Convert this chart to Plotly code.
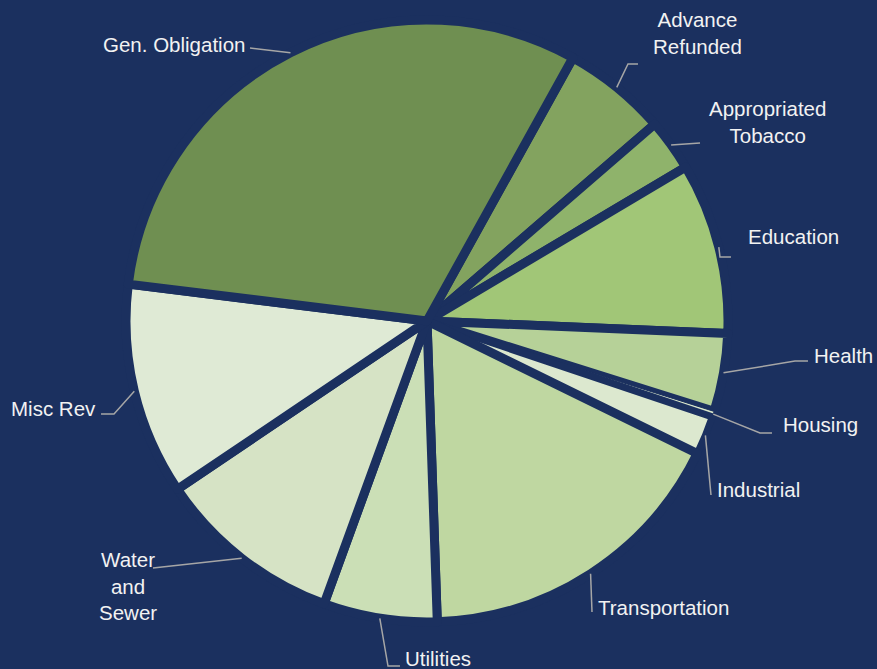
import math
import plotly.graph_objects as go

# ---- data ----
categories = ["Advance Refunded", "Appropriated Tobacco", "Education", "Health", "Housing",
              "Industrial", "Transportation", "Utilities", "Water and Sewer", "Misc Rev",
              "Gen. Obligation"]
values = [5.6, 2.8, 9.2, 4.2, 0.3, 2.1, 17.2, 6.1, 10.0, 11.4, 31.1]
label_texts = ["Advance<br>Refunded", "Appropriated<br>Tobacco", "Education", "Health", "Housing",
               "Industrial", "Transportation", "Utilities", "Water<br>and<br>Sewer", "Misc Rev",
               "Gen. Obligation"]

# ---- style / layout ----
W, H = 877, 669
CX, CY, R = 427, 321, 301
ROT = 29
BG = "#1B305F"
colors = ["#83A35F", "#8FB36B", "#A1C677", "#B6D198", "#D9E6CB", "#DCE8CF",
          "#BFD7A1", "#CBDFB6", "#D6E3C5", "#DFEAD5", "#6F8F51"]
line_widths = [9, 9, 9, 9, 1, 7, 9, 9, 9, 9, 9]

# label text position (px), anchor, leader path points after the rim point (px)
label_layout = {
    "Advance Refunded": ((697, 33), "center", [(628, 64), (638, 64)]),
    "Appropriated Tobacco": ((767, 122), "center", [(700, 143)]),
    "Education": ((746, 236), "left", [(720, 257), (731, 257)]),
    "Health": ((812, 355), "left", [(795, 361), (808, 361)]),
    "Housing": ((781, 424), "left", [(760, 433), (772, 433)]),
    "Industrial": ((715, 489), "left", [(711, 495)]),
    "Transportation": ((596, 607), "left", [(592, 612)]),
    "Utilities": ((403, 658), "left", [(388, 666), (400, 666)]),
    "Water and Sewer": ((128, 586), "center", [(153, 568)]),
    "Misc Rev": ((98, 408), "right", [(114, 414), (101, 414)]),
    "Gen. Obligation": ((247, 45), "right", [(250, 48)]),
}

def px2paper(x, y):
    return x / W, 1 - y / H

fig = go.Figure(go.Pie(
    labels=categories, values=values, sort=False, direction="clockwise", rotation=ROT,
    marker=dict(colors=colors, line=dict(color=BG, width=line_widths)),
    textinfo="none", hoverinfo="label+percent", showlegend=False,
    domain=dict(x=[(CX - R) / W, (CX + R) / W], y=[(H - CY - R) / H, (H - CY + R) / H]),
))

total = sum(values)
cum = 0.0
shapes, annotations = [], []
for cat, v, txt in zip(categories, values, label_texts):
    mid = math.radians(ROT + 360 * (cum + v / 2) / total)
    cum += v
    rx, ry = CX + R * math.sin(mid), CY - R * math.cos(mid)
    (tx, ty), anchor, pts = label_layout[cat]
    path_pts = [(rx, ry)] + pts
    p = []
    for i, (x, y) in enumerate(path_pts):
        ux, uy = px2paper(x, y)
        p.append(("M" if i == 0 else "L") + f"{ux:.5f},{uy:.5f}")
    shapes.append(dict(type="path", path=" ".join(p), xref="paper", yref="paper",
                       line=dict(color="#A6A6A6", width=1.5)))
    ax, ay = px2paper(tx, ty)
    annotations.append(dict(x=ax, y=ay, xref="paper", yref="paper", text=txt,
                            showarrow=False, xanchor=anchor, yanchor="middle", align="center",
                            font=dict(family="Liberation Sans, Arial", size=20.5, color="#F2F2F2")))

fig.update_layout(width=W, height=H, margin=dict(l=0, r=0, t=0, b=0),
                  paper_bgcolor=BG, plot_bgcolor=BG, shapes=shapes, annotations=annotations)
fig.write_html("out.html", config={"displayModeBar": False},
               post_script="document.body.style.margin='0';document.body.style.background='%s';" % BG)
